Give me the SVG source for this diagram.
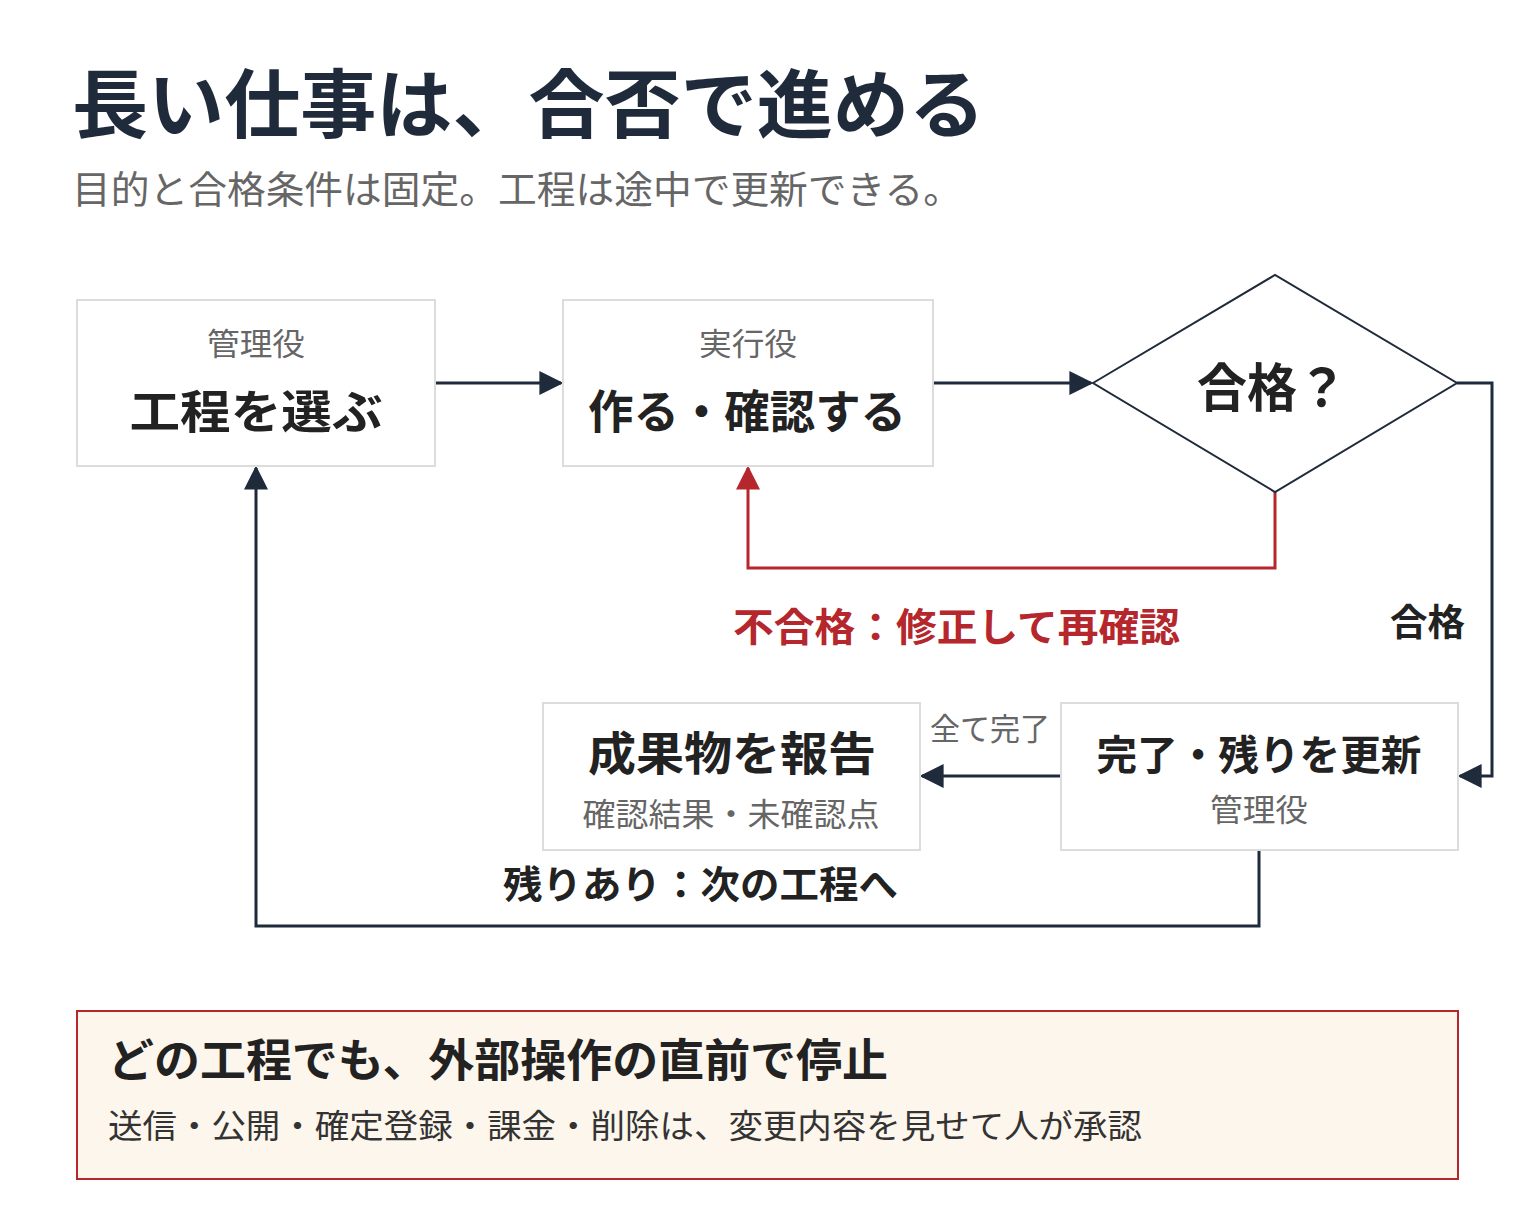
<svg xmlns="http://www.w3.org/2000/svg" width="1536" height="1229" viewBox="0 0 1536 1229">
<style>
text{font-family:"Noto Sans CJK JP","Noto Sans",sans-serif}
.box{fill:#fff;stroke:#dcdcdc;stroke-width:2}
.role{font-size:31px;fill:#666;text-anchor:middle}
.main{font-size:46px;font-weight:bold;fill:#222;text-anchor:middle}
.ln{fill:none;stroke:#1f2a3a;stroke-width:3}
.red{fill:none;stroke:#b5272d;stroke-width:3}
</style>
<defs>
<marker id="ar" viewBox="0 0 10 10" refX="9" refY="5" markerWidth="24" markerHeight="24" markerUnits="userSpaceOnUse" orient="auto"><path d="M0,0L10,5L0,10z" fill="#b5272d"/></marker>
<marker id="ab" viewBox="0 0 10 10" refX="9" refY="5" markerWidth="24" markerHeight="24" markerUnits="userSpaceOnUse" orient="auto"><path d="M0,0L10,5L0,10z" fill="#1f2a3a"/></marker>
</defs>
<rect width="1536" height="1229" fill="#fff"/>
<text x="72" y="132" font-size="75" font-weight="bold" fill="#1f2a3a" textLength="913" lengthAdjust="spacingAndGlyphs">長い仕事は、合否で進める</text>
<text x="72" y="203" font-size="38" fill="#666" textLength="890" lengthAdjust="spacingAndGlyphs">目的と合格条件は固定。工程は途中で更新できる。</text>
<g id="connectors">
<path class="ln" d="M435,383H561" marker-end="url(#ab)"/>
<path class="ln" d="M933,383H1091" marker-end="url(#ab)"/>
<path class="red" d="M1275,492V568H748V468" marker-end="url(#ar)"/>
<path class="ln" d="M1457,383H1492V776H1460" marker-end="url(#ab)"/>
<path class="ln" d="M1061,776H922" marker-end="url(#ab)"/>
<path class="ln" d="M1259,850V926H256V468" marker-end="url(#ab)"/>
<text x="733" y="641" font-size="39" font-weight="bold" fill="#b5272d" textLength="447" lengthAdjust="spacingAndGlyphs">不合格：修正して再確認</text>
<text x="1390" y="636" font-size="37" font-weight="bold" fill="#222" textLength="75" lengthAdjust="spacingAndGlyphs">合格</text>
<text x="930" y="740" font-size="31" fill="#666" textLength="120" lengthAdjust="spacingAndGlyphs">全て完了</text>
<text x="503" y="898" font-size="38" font-weight="bold" fill="#222" textLength="395" lengthAdjust="spacingAndGlyphs">残りあり：次の工程へ</text>
</g>
<g id="n1"><rect class="box" x="77" y="300" width="358" height="166"/><text class="role" x="256" y="355" textLength="98" lengthAdjust="spacingAndGlyphs">管理役</text><text class="main" x="256" y="428" textLength="253" lengthAdjust="spacingAndGlyphs">工程を選ぶ</text></g>
<g id="n2"><rect class="box" x="563" y="300" width="370" height="166"/><text class="role" x="748" y="355" textLength="98" lengthAdjust="spacingAndGlyphs">実行役</text><text class="main" x="747" y="428" textLength="318" lengthAdjust="spacingAndGlyphs">作る・確認する</text></g>
<g id="n3"><path d="M1093,383L1275,275L1457,383L1275,492z" fill="#fff" stroke="#1f2a3a" stroke-width="2"/><text class="main" x="1272" y="407" style="font-size:52px" textLength="150" lengthAdjust="spacingAndGlyphs">合格？</text></g>
<g id="n4"><rect class="box" x="1061" y="703" width="397" height="147"/><text class="main" x="1259" y="770" style="font-size:41px" textLength="325" lengthAdjust="spacingAndGlyphs">完了・残りを更新</text><text class="role" x="1259" y="821" textLength="98" lengthAdjust="spacingAndGlyphs">管理役</text></g>
<g id="n5"><rect class="box" x="543" y="703" width="377" height="147"/><text class="main" x="732" y="770" textLength="288" lengthAdjust="spacingAndGlyphs">成果物を報告</text><text class="role" x="731" y="826" style="font-size:32px" textLength="297" lengthAdjust="spacingAndGlyphs">確認結果・未確認点</text></g>
<g id="n6"><rect x="77" y="1011" width="1381" height="168" fill="#fdf6ec" stroke="#b5272d" stroke-width="2"/><text x="108" y="1077" font-size="45" font-weight="bold" fill="#222" textLength="780" lengthAdjust="spacingAndGlyphs">どの工程でも、外部操作の直前で停止</text><text x="108" y="1138" font-size="33" fill="#333" textLength="1034" lengthAdjust="spacingAndGlyphs">送信・公開・確定登録・課金・削除は、変更内容を見せて人が承認</text></g>
</svg>
